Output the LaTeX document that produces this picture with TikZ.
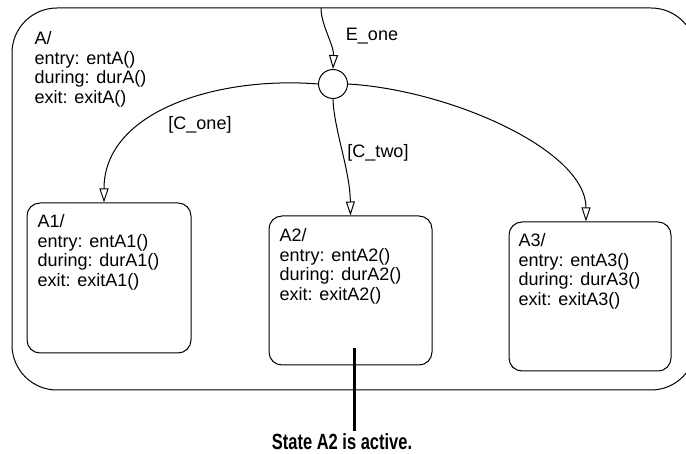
\documentclass[tikz,border=0pt]{standalone}
\usepackage{fontspec}
\setmainfont{Liberation Sans}
\newfontfamily\notefont[FakeStretch=0.75]{Liberation Sans}
\usetikzlibrary{arrows.meta}

\begin{document}
\begin{tikzpicture}[
      x=1pt, y=-1pt,
      % --- GLOBAL STYLES ---
      every node/.style={font=\fontsize{18}{19.5}\selectfont},
      superstate/.style={rectangle, draw=black, line width=1pt, rounded corners=45pt, inner sep=0pt},
      substate/.style={rectangle, draw=black, line width=1pt, rounded corners=13pt, inner sep=0pt},
      junction/.style={circle, draw=black, line width=1pt, minimum size=29pt, inner sep=0pt},
      actions/.style={anchor=north west, align=left, inner sep=0pt},
      trans/.style={draw=black, line width=1pt, -{Triangle[open, length=14pt, width=9pt]}},
      note/.style={font=\notefont\bfseries\fontsize{22}{24}\selectfont, inner sep=0pt}
  ]
    \clip (0,0) rectangle (686,454);
    %
    % 1. Superstate A
    \node[superstate, minimum width=684pt, minimum height=382pt] (A) at (354,199) {};
    \node[actions] (A-txt) at ([shift={(23,24)}]A.north west) {A/\\entry: entA()\\during: durA()\\exit: exitA()};
    %
    % 2. Junction
    \node[junction] (junc) at (333,84) {};
    %
    % 3. Substates
    \node[substate, minimum width=164pt, minimum height=150pt] (A1) at (109,278) {};
    \node[actions] (A1-txt) at ([shift={(11,12)}]A1.north west) {A1/\\entry: entA1()\\during: durA1()\\exit: exitA1()};
    \node[substate, minimum width=163pt, minimum height=149pt] (A2) at (350.5,290.5) {};
    \node[actions] (A2-txt) at ([shift={(11,13)}]A2.north west) {A2/\\entry: entA2()\\during: durA2()\\exit: exitA2()};
    \node[substate, minimum width=162pt, minimum height=149pt] (A3) at (590,296.5) {};
    \node[actions] (A3-txt) at ([shift={(10,12)}]A3.north west) {A3/\\entry: entA3()\\during: durA3()\\exit: exitA3()};
    %
    % 4. Transitions
    \coordinate (dflt) at (321,8);
    \draw[trans] (dflt) .. controls (321,25) and (334,45) .. (junc.north);
    \draw[trans] (junc.west) .. controls (220,76) and (104,110) .. ([xshift=-5pt]A1.north);
    \draw[trans] (junc.south) .. controls (334,130) and (350,170) .. (A2.north);
    \draw[trans] (junc.east) .. controls (450,90) and (586,150) .. ([xshift=-4pt]A3.north);
    %
    % 5. Transition labels
    \node (E-lbl) at (372,36) {E\_one};
    \node (C1-lbl) at (200,125) {[C\_one]};
    \node (C2-lbl) at (378,153) {[C\_two]};
    %
    % 6. Active state note
    \coordinate (active-pt) at (354,348);
    \node[note] (active) at (342,441.5) {State A2 is active.};
    \draw[line width=3pt, shorten >=2pt] (active-pt) -- (active-pt |- active.north);
  \end{tikzpicture}
\end{document}
